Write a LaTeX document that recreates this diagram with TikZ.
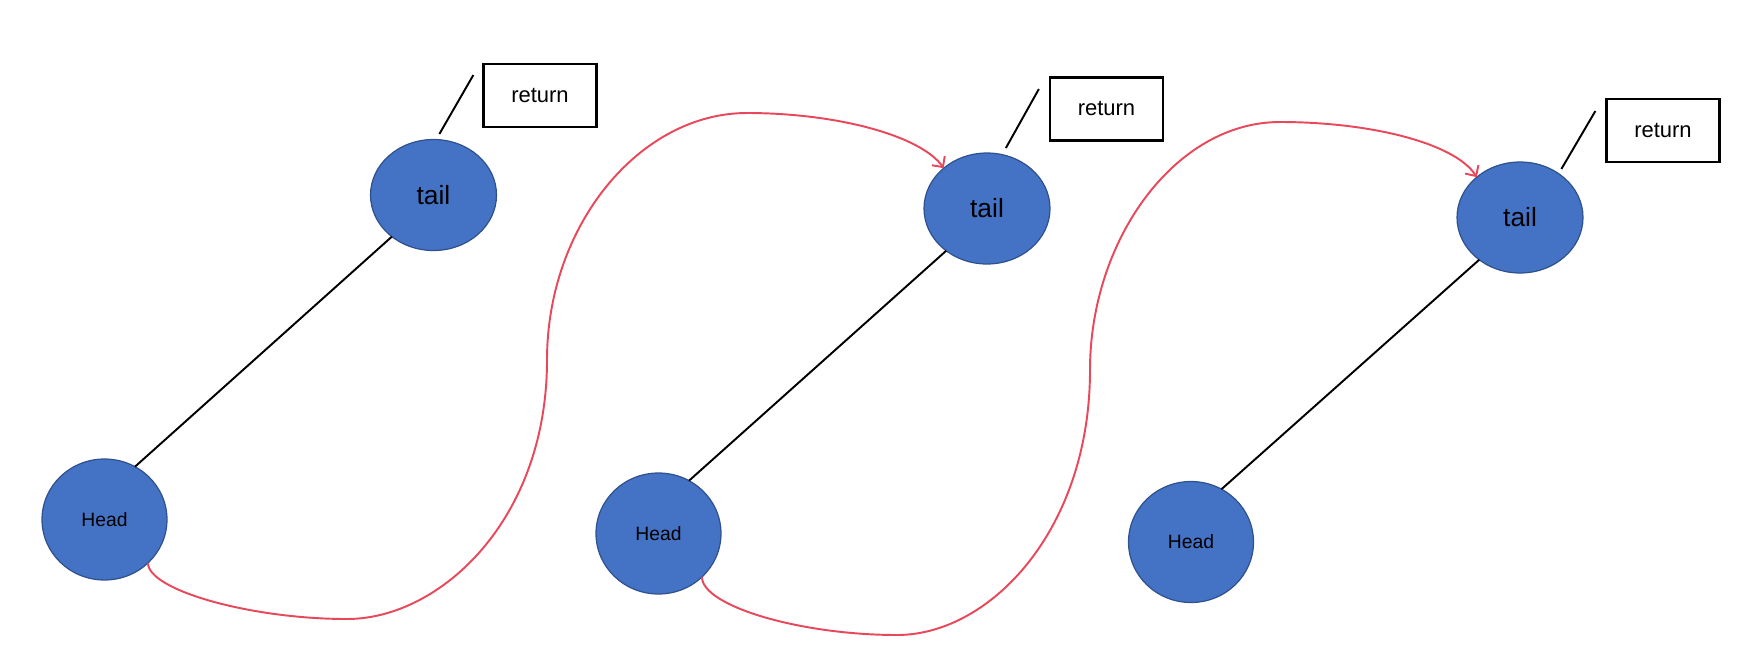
\documentclass[tikz,border=0pt]{standalone}
\usepackage{fontspec}
\setmainfont{Liberation Sans}
\usetikzlibrary{shapes.geometric,arrows.meta}

\definecolor{nodeblue}{RGB}{68,114,196}
\definecolor{nodeedge}{RGB}{47,82,143}
\definecolor{linkred}{RGB}{232,72,90}

\begin{document}
\begin{tikzpicture}[x=0.02cm,y=-0.02cm,
    tailnode/.style={ellipse,draw=nodeedge,fill=nodeblue,line width=0.7pt,
      minimum width=2.52cm,minimum height=2.22cm,inner sep=0pt,outer sep=0pt,
      font=\fontsize{15}{18}\selectfont},
    headnode/.style={ellipse,draw=nodeedge,fill=nodeblue,line width=0.7pt,
      minimum width=2.5cm,minimum height=2.42cm,inner sep=0pt,outer sep=0pt,
      font=\fontsize{11}{13}\selectfont},
    retbox/.style={draw,line width=1.3pt,minimum width=2.26cm,minimum height=1.26cm,
      inner sep=0pt,font=\fontsize{12.5}{15}\selectfont},
    link/.style={draw=linkred,line width=1.1pt,-{Straight Barb[length=4.5pt,width=9pt]}},
    bar/.style={line width=1.1pt}]
  \useasboundingbox (0,0) rectangle (1740,646);

  % first pair
  \node[name=h1, headnode] at (104.5,519.5) {Head};
  \node[name=t1, tailnode] at (433.5,195) {tail};
  \node[name=r1, retbox] at (540,95.5) {return};
  \draw[bar] (h1.60) -- (t1.225);
  \draw[bar] ([shift={(-9,-20.5)}]r1.west) -- ++(-34,59);

  % second pair
  \node[name=h2, headnode] at (658.5,533.5) {Head};
  \node[name=t2, tailnode] at (987,208.5) {tail};
  \node[name=r2, retbox] at (1106.5,109) {return};
  \draw[bar] (h2.60) -- (t2.226);
  \draw[bar] ([shift={(-10,-20)}]r2.west) -- ++(-33,59);

  % third pair
  \node[name=h3, headnode] at (1191,542) {Head};
  \node[name=t3, tailnode] at (1520,217.5) {tail};
  \node[name=r3, retbox] at (1663,130.5) {return};
  \draw[bar] (h3.60) -- (t3.226);
  \draw[bar] ([shift={(-10,-19.5)}]r3.west) -- ++(-34,58);

  % links head -> next tail
  \draw[link] (h1.-45) .. controls +(0,27) and (250,619) .. (347,619)
    .. controls (440,619) and (547,520) .. (547,360)
    .. controls (547,225) and (640,113) .. (747,113)
    .. controls (835,113) and (920,135) .. (t2.137);
  \draw[link] (h2.-45) .. controls +(0,29) and (800,635) .. (897,635)
    .. controls (990,635) and (1090,530) .. (1090,370)
    .. controls (1090,240) and (1175,122) .. (1280,122)
    .. controls (1370,122) and (1455,143) .. (t3.137);
\end{tikzpicture}
\end{document}
